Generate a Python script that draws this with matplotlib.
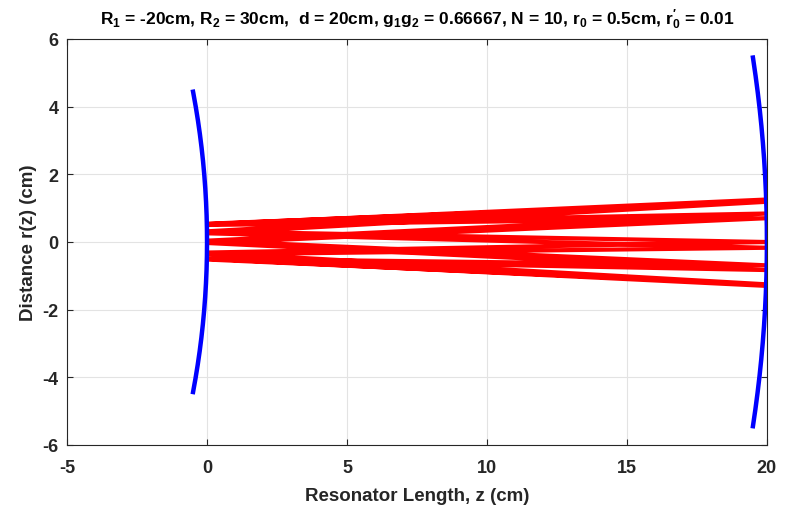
import numpy as np
import matplotlib.pyplot as plt

plt.rcParams['font.family'] = ['Liberation Sans', 'DejaVu Sans']
plt.rcParams['font.weight'] = 'bold'
plt.rcParams['axes.unicode_minus'] = False
plt.rcParams['mathtext.fontset'] = 'custom'
plt.rcParams['mathtext.rm'] = 'Liberation Sans:bold'
plt.rcParams['mathtext.it'] = 'Liberation Sans:bold'
plt.rcParams['mathtext.bf'] = 'Liberation Sans:bold'
plt.rcParams['mathtext.default'] = 'bf'

# resonator parameters
R1 = -20.0   # cm, convex
R2 = 30.0    # cm, concave
d = 20.0     # cm
h1 = 4.44    # half aperture of mirror 1
h2 = 5.45    # half aperture of mirror 2

# ray height at each bounce, alternating mirror 1 / mirror 2
ray_z = [0, 20, 0, 20, 0, 20, 0, 20, 0, 20, 0, 20, 0, 20, 0, 20, 0, 20, 0, 20, 0]
ray_r = [0.5, 0.7, -0.033, -0.833, -0.522, -1.256, -0.315, -0.004, 0.312, 1.253,
         0.523, 0.839, 0.036, -0.694, -0.499, -1.302, -0.369, -0.174, 0.253, 1.186, 0.537]

fig = plt.figure(figsize=(7.89, 5.06), dpi=100)
ax = fig.add_axes([0.085, 0.119, 0.887, 0.802])

# mirror surfaces (spherical arcs)
r1 = np.linspace(-h1, h1, 200)
z1 = -(abs(R1) - np.sqrt(R1**2 - r1**2))
r2 = np.linspace(-h2, h2, 200)
z2 = d - (R2 - np.sqrt(R2**2 - r2**2))

ax.plot(ray_z, ray_r, color='red', lw=3.0, solid_capstyle='butt', zorder=2)
ax.plot(z1, r1, color='blue', lw=3.2, zorder=3)
ax.plot(z2, r2, color='blue', lw=3.2, zorder=3)

ax.set_xlim(-5, 20)
ax.set_ylim(-6, 6)
ax.set_xticks([-5, 0, 5, 10, 15, 20])
ax.set_yticks([-6, -4, -2, 0, 2, 4, 6])
ax.grid(True, color='#e3e3e3', lw=0.8)
ax.set_axisbelow(True)
ax.tick_params(direction='in', top=True, right=True, labelsize=13,
               colors='#262626', length=4, width=0.8)
ax.tick_params(axis='x', pad=10)
ax.tick_params(axis='y', pad=6)
for s in ax.spines.values():
    s.set_color('#262626')
    s.set_linewidth(0.8)

ax.set_xlabel('Resonator Length, z (cm)', fontsize=13.5, fontweight='bold',
              color='#262626', labelpad=8)
ax.set_ylabel('Distance r(z) (cm)', fontsize=13.5, fontweight='bold',
              color='#262626', labelpad=4)
ax.set_title(r"R$_1$ = -20cm, R$_2$ = 30cm,  d = 20cm, g$_1$g$_2$ = 0.66667, N = 10, "
             r"r$_0$ = 0.5cm, r$^\prime_0$ = 0.01", fontsize=12.5, fontweight='bold', pad=11)

fig.savefig('out.png', dpi=100)
